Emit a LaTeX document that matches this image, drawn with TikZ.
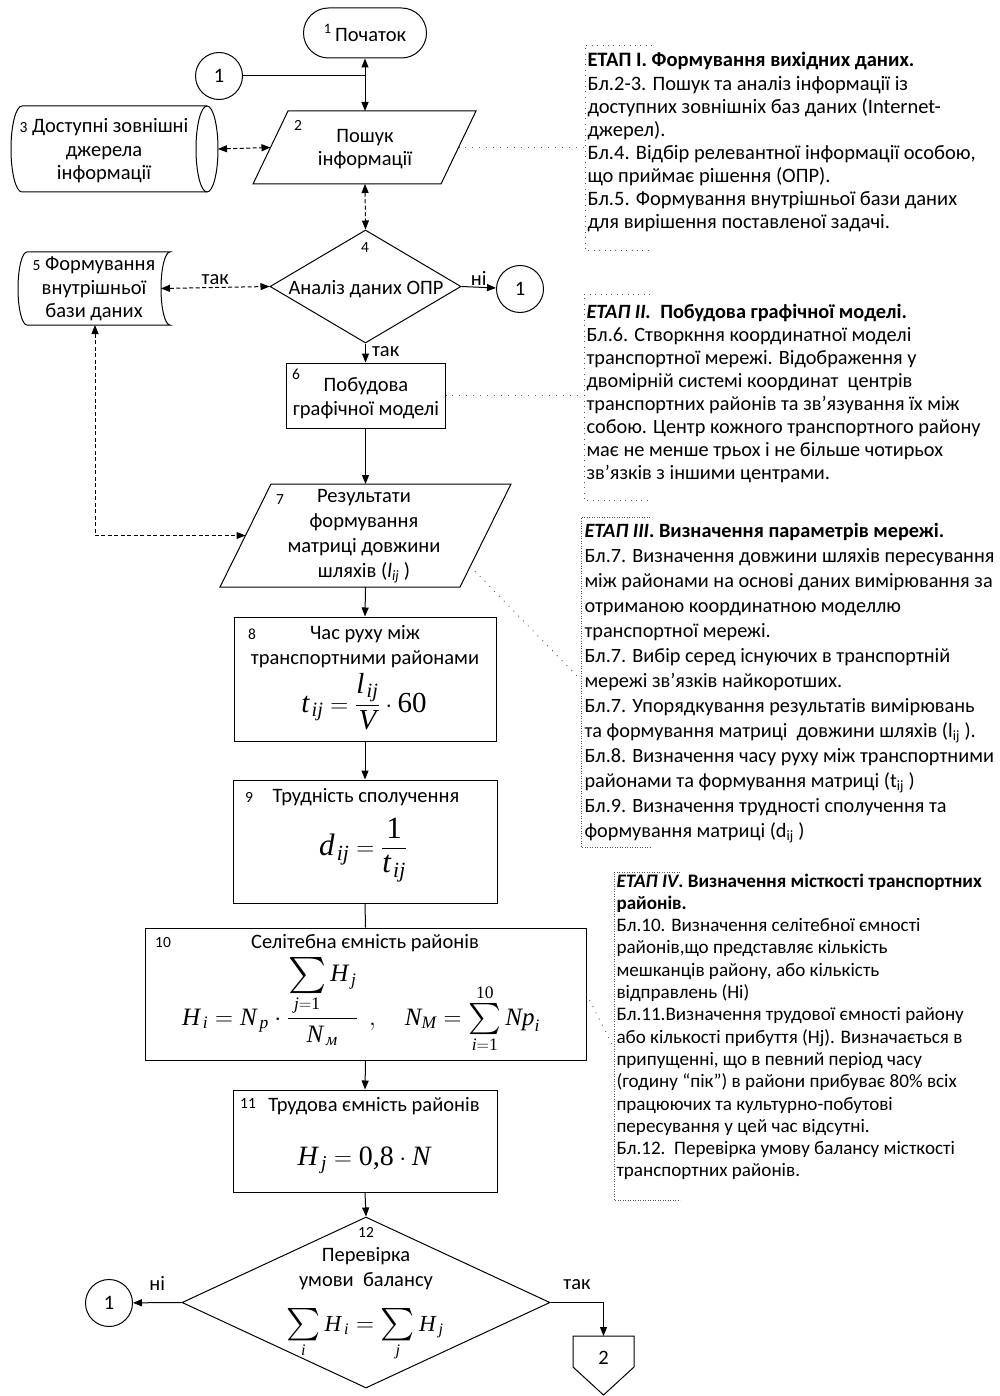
\documentclass[tikz,border=0pt]{standalone}
\usepackage{amsmath}
\usepackage{graphicx}
\usepackage[no-math]{fontspec}
\setmainfont{Carlito}
\newfontfamily\tms{Liberation Serif}
\usetikzlibrary{positioning,calc,arrows.meta,shapes.geometric}
\definecolor{leadc}{HTML}{555555}
\newcommand{\txt}{\fontsize{20.5}{23.5}\selectfont}
\newcommand{\numf}{\fontsize{15.5}{17}\selectfont}
\newcommand{\ntxt}[2]{\fontsize{#1}{#2}\selectfont}
\newcommand{\mi}[1]{\text{\tms\itshape #1}}
\newcommand{\mr}[1]{\text{\tms #1}}
\newcommand{\bsum}[1]{\mathop{\vcenter{\hbox{\scalebox{#1}{$\sum$}}}}\limits}
\tikzset{
  term/.style={draw, rounded corners=25pt, minimum width=123pt, minimum height=50pt, inner sep=0pt, font=\txt},
  conn/.style={draw, circle, minimum size=47pt, inner sep=0pt, font=\txt},
  proc/.style={draw, rectangle, inner sep=0pt},
  dec/.style={draw, diamond, inner sep=0pt},
  num/.style={font=\numf, inner sep=0pt},
  txt/.style={font=\txt, align=center, inner sep=0pt},
  lab/.style={font=\txt, inner sep=0pt},
  frm/.style={anchor=base, inner sep=0pt},
  note/.style={anchor=base west, inner sep=0pt},
  flow/.style={-{Triangle[length=9pt,width=7pt]}},
  both/.style={{Triangle[length=9pt,width=7pt]}-{Triangle[length=9pt,width=7pt]}},
  dsh/.style={dash pattern=on 4pt off 2.5pt},
  lead/.style={leadc, line width=0.9pt, dash pattern=on 0.9pt off 6pt},
  brk/.style={leadc, line width=0.9pt, dash pattern=on 0.9pt off 4.5pt},
  brkd/.style={leadc, line width=0.9pt, dash pattern=on 0.9pt off 1.6pt},
}
\begin{document}
\begin{tikzpicture}[x=1pt, y=1pt, line width=1pt]
\useasboundingbox (0,0) rectangle (1000,-1396);

\node[term] (t1) at (365,-33) {\textsuperscript{1}\,Початок};
\node[conn] (c1a) at (219,-76) {1};

\draw (288,-111) -- (476,-111) -- (441,-184) -- (253,-184) -- cycle;
\node[num] (n2) at (298,-125) {2};
\node[txt] (p2) at (365,-149) {Пошук\\інформації};
\coordinate (p2n) at (365,-111);
\coordinate (p2s) at (365,-184);
\coordinate (p2l) at (270.5,-147.5);
\coordinate (p2r) at (458.5,-147.5);

\draw (22,-106) -- (207,-106)
  .. controls (213.1,-106) and (218,-125.3) .. (218,-149)
  .. controls (218,-172.7) and (213.1,-192) .. (207,-192)
  -- (22,-192)
  .. controls (15.9,-192) and (11,-172.7) .. (11,-149)
  .. controls (11,-125.3) and (15.9,-106) .. cycle;
\draw (207,-106) .. controls (200.9,-106) and (196,-125.3) .. (196,-149)
  .. controls (196,-172.7) and (200.9,-192) .. (207,-192);
\node[txt] (s3) at (104,-151) {{\numf 3} Доступні зовнішні\\джерела\\інформації};
\coordinate (s3e) at (218,-149);

\node[dec, minimum width=191pt, minimum height=113pt] (d4) at (365.5,-286.5) {};
\node[num] (n4) at (365,-248) {4};
\node[txt] (d4t) at (366,-289) {Аналіз даних ОПР};
\node[conn] (c1b) at (520,-289) {1};

\draw (27,-252) -- (170,-252)
  .. controls (165,-252) and (161,-268.4) .. (161,-288.5)
  .. controls (161,-308.6) and (165,-325) .. (170,-325)
  -- (27,-325)
  .. controls (22,-325) and (18,-308.6) .. (18,-288.5)
  .. controls (18,-268.4) and (22,-252) .. cycle;
\node[txt] (s5) at (94,-289) {{\numf 5} Формування\\внутрішньої\\бази даних};
\coordinate (s5e) at (161,-288.5);
\coordinate (s5s) at (95,-325);

\node[proc, minimum width=159pt, minimum height=65pt] (b6) at (365.5,-395.5) {};
\node[num] (n6) at (296,-374) {6};
\node[txt] (b6t) at (366,-398) {Побудова\\графічної моделі};

\draw (271,-484) -- (511,-484) -- (460,-587) -- (220,-587) -- cycle;
\node[num] (n7) at (280,-500) {7};
\node[txt, font=\ntxt{20.5}{25}] (p7) at (364,-536.5) {Результати\\формування\\матриці довжини\\шляхів (\textit{l}\textsubscript{\textit{ij}} )};
\coordinate (p7n) at (365.5,-484);
\coordinate (p7s) at (365.5,-587);
\coordinate (p7l) at (245.5,-535.5);
\coordinate (p7r) at (470.2,-566.4);

\node[proc, minimum width=262pt, minimum height=124pt] (b8) at (365,-679) {};
\node[num] (n8) at (252,-634) {8};
\node[txt, font=\ntxt{20.5}{25}] (b8t) at (365,-646.5) {Час руху між\\транспортними районами};
\node[frm, font=\fontsize{29}{33}\selectfont] (b8f) at (364,-712) {$\displaystyle \mi{t}_{\mkern2mu\mi{ij}}=\frac{\mi{l}_{\mkern2mu\mi{ij}}}{\mi{V}}\cdot\mr{60}$};

\node[proc, minimum width=264pt, minimum height=123pt] (b9) at (365,-841.5) {};
\node[num] (n9) at (249,-797) {9};
\node[txt] (b9t) at (366,-797) {Трудність сполучення};
\node[frm, font=\fontsize{31}{35}\selectfont] (b9f) at (363,-855) {$\displaystyle \mi{d}_{\mkern2mu\mi{ij}}=\frac{\mr{1}}{\mi{t}_{\mkern2mu\mi{ij}}}$};

\node[proc, minimum width=441pt, minimum height=132pt] (b10) at (365.5,-994) {};
\node[num] (n10) at (163,-943) {10};
\node[txt] (b10t) at (365,-943) {Селітебна ємність районів};
\node[frm, font=\fontsize{25}{29}\selectfont] (b10f) at (361,-1025) {$\displaystyle \mi{H}_{\mkern3mu\mi{i}}=\mi{N}_{\mkern3mu\mi{p}}\cdot\frac{\bsum{1.45}_{\mi{j}=\mr{1}}\mi{H}_{\mkern3mu\mi{j}}}{\mi{N}_{\mkern3mu\mi{м}}}\ \ ,\quad \mi{N}_{\mi{М}}=\bsum{1.25}_{\mi{i}=\mr{1}}^{\mr{10}}\mi{N}\mi{p}_{\mi{i}}$};

\node[proc, minimum width=264pt, minimum height=102pt] (b11) at (365,-1141) {};
\node[num] (n11) at (248,-1103) {11};
\node[txt] (b11t) at (374,-1106) {Трудова ємність районів};
\node[frm, font=\fontsize{28}{32}\selectfont] (b11f) at (364,-1165) {$\mi{H}_{\mkern3mu\mi{j}}=\mr{0,8}\cdot\mi{N}$};

\node[dec, minimum width=368pt, minimum height=171pt] (d12) at (366,-1302.5) {};
\node[num] (n12) at (366,-1232) {12};
\node[txt, font=\ntxt{20.5}{25}] (d12t) at (366,-1268.5) {Перевірка\\умови\ \ балансу};
\node[frm, font=\fontsize{23}{27}\selectfont] (d12f) at (365,-1331) {$\bsum{1.3}_{\mi{i}}\mi{H}_{\mkern3mu\mi{i}}=\bsum{1.3}_{\mi{j}}\mi{H}_{\mkern3mu\mi{j}}$};
\node[conn] (c1c) at (109,-1303) {1};

\draw (573,-1336) -- (634,-1336) -- (634,-1367) -- (603.5,-1395) -- (573,-1367) -- cycle;
\node[txt] (of2) at (603.5,-1358) {2};
\coordinate (of2n) at (603.5,-1336);

\draw[both] (t1.south) -- (p2n);
\draw (c1a.east) -- (c1a.east -| t1.south);
\draw[dsh, both] (s3e) -- (p2l);
\draw[dsh, both] (p2s) -- (d4.north);
\draw[dsh, both] (s5e) -- node[lab, above=2pt] (yes4) {так} (d4.west);
\draw[flow] (d4.east) -- node[lab, above=1pt] (no4) {ні} (c1b);
\draw[flow] (d4.south) -- node[lab, right=6pt, pos=0.4] (yes4b) {так} (b6.north);
\draw[dsh, both] (s5s) |- (p7l);
\draw[flow] (b6.south) -- (p7n);
\draw[flow] (p7s) -- (b8.north);
\foreach \a/\b in {b8/b9,b10/b11,b11/d12}
  \draw[flow] (\a.south) -- (\b.north);
\draw (b9.south) -- (b10.north);
\draw[flow] (d12.west) -- node[lab, above=12pt] (no12) {ні} (c1c);
\draw[flow] (d12.east) -| node[lab, above=12pt, pos=0.25] (yes12) {так} (of2n);

\draw[brk] (652,-45) -- (585,-45) -- (585,-250) -- (652,-250);
\draw[brk] (650,-294) -- (584,-294) -- (584,-500) -- (650,-500);
\draw[brkd] (650,-517) -- (581,-517) -- (581,-847) -- (650,-847);
\draw[brkd] (680,-872) -- (614,-872) -- (614,-1200) -- (680,-1200);
\coordinate (e1w) at (585,-147.5);
\coordinate (e2w) at (584,-395.5);
\coordinate (e3w) at (581,-680);
\coordinate (e4w) at (614,-1048);
\draw[lead] (p2r) -- (e1w);
\draw[lead] (b6.east) -- (e2w);
\draw[lead] (p7r) -- (e3w);
\draw[lead] (b10.east) -- (e4w);

\node[note, font=\ntxt{20.5}{23.1}] (e1) at (587,-67) {\begin{tabular}[t]{@{}l@{}}
\textbf{ЕТАП I. Формування вихідних даних.}\\
Бл.2-3. Пошук та аналіз інформації із\\
доступних зовнішніх баз даних (Internet-\\
джерел).\\
Бл.4. Відбір релевантної інформації особою,\\
що приймає рішення (ОПР).\\
Бл.5. Формування внутрішньої бази даних\\
для вирішення поставленої задачі.
\end{tabular}};
\node[note, font=\ntxt{20.3}{23.1}] (e2) at (586,-318) {\begin{tabular}[t]{@{}l@{}}
\textbf{\textit{ЕТАП II.}\ \ Побудова графічної моделі.}\\
Бл.6. Створкння координатної моделі\\
транспортної мережі. Відображення у\\
двомірній системі координат\ \ центрів\\
транспортних районів та зв’язування їх між\\
собою. Центр кожного транспортного району\\
має не менше трьох і не більше чотирьох\\
зв’язків з іншими центрами.
\end{tabular}};
\node[note, font=\ntxt{20.3}{25}] (e3) at (584,-537) {\begin{tabular}[t]{@{}l@{}}
\textbf{\textit{ЕТАП III}. Визначення параметрів мережі.}\\
Бл.7. Визначення довжини шляхів пересування\\
між районами на основі даних вимірювання за\\
отриманою координатною моделлю\\
транспортної мережі.\\
Бл.7. Вибір серед існуючих в транспортній\\
мережі зв’язків найкоротших.\\
Бл.7. Упорядкування результатів вимірювань\\
та формування матриці\ \ довжини шляхів (l\textsubscript{ij} ).\\
Бл.8. Визначення часу руху між транспортними\\
районами та формування матриці (t\textsubscript{ij} )\\
Бл.9. Визначення трудності сполучення та\\
формування матриці (d\textsubscript{ij} )
\end{tabular}};
\node[note, font=\ntxt{19.1}{22.3}] (e4) at (616,-887) {\begin{tabular}[t]{@{}l@{}}
\textbf{\textit{ЕТАП IV}. Визначення місткості транспортних}\\
\textbf{районів.}\\
Бл.10. Визначення селітебної ємності\\
районів,що представляє кількість\\
мешканців району, або кількість\\
відправлень (Hi)\\
Бл.11.Визначення трудової ємності району\\
або кількості прибуття (Hj). Визначається в\\
припущенні, що в певний період часу\\
(годину “пік”) в райони прибуває 80\% всіх\\
працюючих та культурно-побутові\\
пересування у цей час відсутні.\\
Бл.12.\ \ Перевірка умову балансу місткості\\
транспортних районів.
\end{tabular}};
\end{tikzpicture}
\end{document}
